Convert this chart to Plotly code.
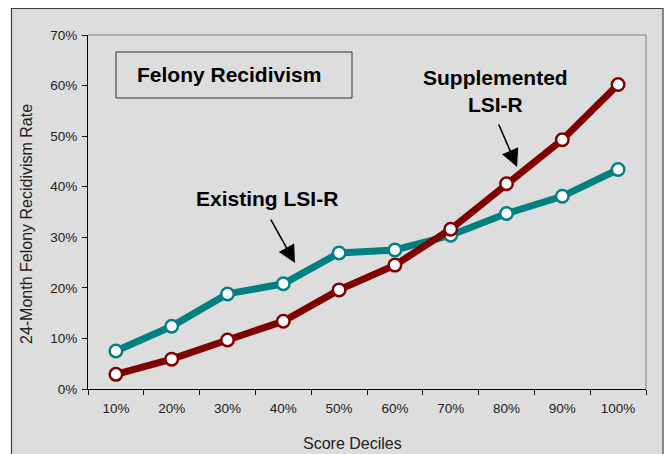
import plotly.graph_objects as go

deciles = ["10%", "20%", "30%", "40%", "50%", "60%", "70%", "80%", "90%", "100%"]
existing = [0.075, 0.124, 0.188, 0.208, 0.269, 0.275, 0.304, 0.347, 0.381, 0.434]
supplemented = [0.029, 0.059, 0.097, 0.134, 0.196, 0.245, 0.316, 0.406, 0.493, 0.602]

TEAL = "#008080"
RED = "#800000"
BG = "#DDDDDD"
FONT = "Liberation Sans, Arial, sans-serif"

fig = go.Figure()
for vals, col in [(existing, TEAL), (supplemented, RED)]:
    fig.add_trace(go.Scatter(
        x=deciles, y=vals, mode="lines+markers",
        line=dict(color=col, width=7),
        marker=dict(symbol="circle", size=12.5, color="white", line=dict(color=col, width=2.5)),
        showlegend=False, hoverinfo="skip"))

W, H = 666, 454
L, R, T, B = 88, 20, 35, 65
pw, ph = W - L - R, H - T - B

def px(x):
    return (x - L) / pw

def py(y):
    return (H - B - y) / ph

shapes = [
    # outer frame
    dict(type="rect", xref="paper", yref="paper", x0=px(11.5), x1=px(663), y0=py(475), y1=py(8.5),
         fillcolor=BG, line=dict(color="#404040", width=1.2), layer="below"),
    # top & right plot borders
    dict(type="line", xref="paper", yref="paper", x0=0, x1=1, y0=1, y1=1, line=dict(color="#808080", width=1)),
    dict(type="line", xref="paper", yref="paper", x0=1, x1=1, y0=0, y1=1, line=dict(color="#808080", width=1)),
    # title box
    dict(type="rect", xref="paper", yref="paper", x0=px(116), x1=px(352), y0=py(98), y1=py(52),
         line=dict(color="#333333", width=1)),
]

def label(text, x, y, size, color="black", angle=0):
    return dict(text=text, xref="paper", yref="paper", x=px(x), y=py(y),
                xanchor="center", yanchor="middle", showarrow=False, textangle=angle,
                font=dict(size=size, color=color, family=FONT))

annotations = [
    label("<b>Felony Recidivism</b>", 229, 75, 21),
    label("<b>Existing LSI-R</b>", 267, 199, 21),
    label("<b>Supplemented<br>LSI-R</b>", 495, 90.5, 21),
    # arrows
    dict(text="", xref="x", yref="y", x=3.21, y=0.249, ax=-25, ay=-45, showarrow=True,
         arrowhead=2, arrowsize=2.2, arrowwidth=1.6, arrowcolor="black", standoff=0, startstandoff=0),
    dict(text="", xref="x", yref="y", x=7.19, y=0.439, ax=-19, ay=-44, showarrow=True,
         arrowhead=2, arrowsize=2.2, arrowwidth=1.6, arrowcolor="black", standoff=0, startstandoff=0),
    # axis titles
    label("24-Month Felony Recidivism Rate", 26, 224, 16, "#222222", -90),
    label("Score Deciles", 352, 443, 16, "#222222"),
]

fig.update_layout(
    width=W, height=H,
    margin=dict(l=L, r=R, t=T, b=B, autoexpand=False),
    paper_bgcolor="white", plot_bgcolor="rgba(0,0,0,0)",
    font=dict(family=FONT, color="#222222", size=13.5),
    shapes=shapes, annotations=annotations,
    xaxis=dict(type="category", range=[-0.5, 9.5], showgrid=False, zeroline=False,
               showline=True, linecolor="black", linewidth=1,
               ticks="outside", tickson="boundaries", ticklen=5, tickcolor="black",
               ticklabelstandoff=7,
               tickfont=dict(size=13.5, color="#222222")),
    yaxis=dict(range=[0, 0.7], dtick=0.1, tickformat=".0%", showgrid=False, zeroline=False,
               showline=True, linecolor="black", linewidth=1,
               ticks="outside", ticklen=5, tickcolor="black",
               ticklabelstandoff=2,
               tickfont=dict(size=13.5, color="#222222")),
)

fig.write_html("out.html", config={"displayModeBar": False},
               post_script="document.body.style.margin='0px';")
